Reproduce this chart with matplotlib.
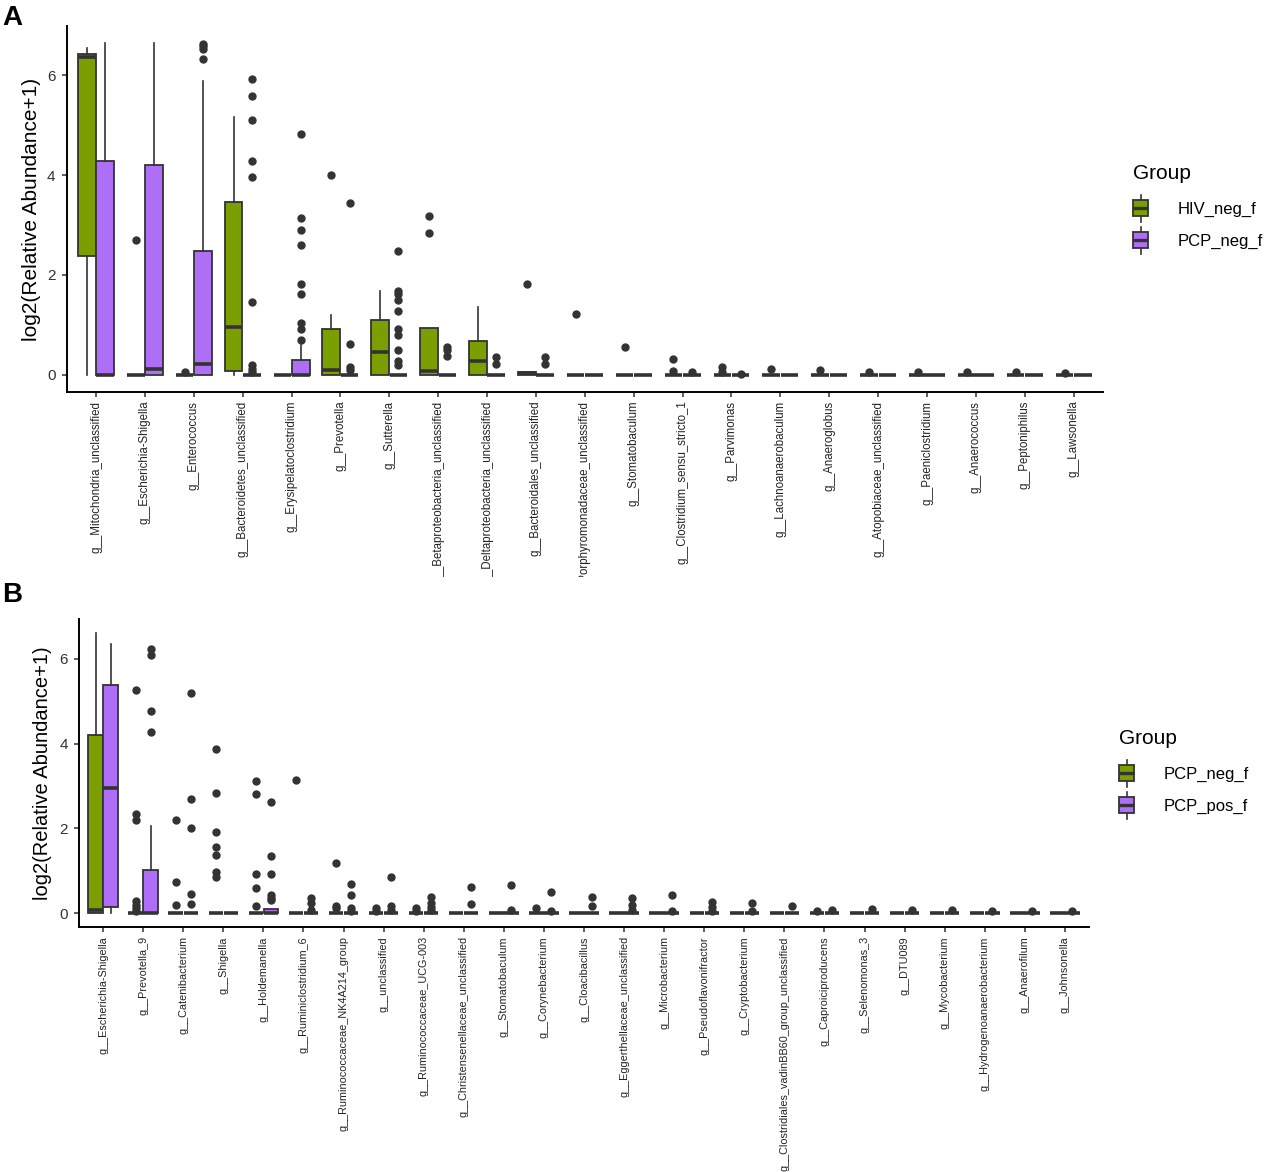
import numpy as np
import matplotlib
matplotlib.use("Agg")
import matplotlib.pyplot as plt
from matplotlib.transforms import Bbox, TransformedBbox
from matplotlib.legend_handler import HandlerBase
from matplotlib.patches import Rectangle, Patch
from matplotlib.lines import Line2D

plt.rcParams['font.family'] = ['Liberation Sans', 'DejaVu Sans']

# ---------------- Panel A data ----------------
cats_a = ["g__Mitochondria_unclassified", "g__Escherichia-Shigella", "g__Enterococcus",
          "g__Bacteroidetes_unclassified", "g__Erysipelatoclostridium", "g__Prevotella",
          "g__Sutterella", "g__Betaproteobacteria_unclassified", "g__Deltaproteobacteria_unclassified",
          "g__Bacteroidales_unclassified", "g__Porphyromonadaceae_unclassified", "g__Stomatobaculum",
          "g__Clostridium_sensu_stricto_1", "g__Parvimonas", "g__Lachnoanaerobaculum",
          "g__Anaeroglobus", "g__Atopobiaceae_unclassified", "g__Paeniclostridium",
          "g__Anaerococcus", "g__Peptoniphilus", "g__Lawsonella"]
groups_a = ["HIV_neg_f", "PCP_neg_f"]

# HIV_neg_f
a1_q1 = [2.38, 0, 0, 0.07, 0, 0, 0, 0, 0, 0, 0, 0, 0, 0, 0, 0, 0, 0, 0, 0, 0]
a1_med = [6.36, 0, 0, 0.96, 0, 0.09, 0.46, 0.07, 0.27, 0.03, 0, 0, 0, 0, 0, 0, 0, 0, 0, 0, 0]
a1_q3 = [6.43, 0, 0, 3.47, 0, 0.91, 1.09, 0.94, 0.68, 0.05, 0, 0, 0, 0, 0, 0, 0, 0, 0, 0, 0]
a1_lo = [0, 0, 0, 0, 0, 0, 0, 0, 0, 0, 0, 0, 0, 0, 0, 0, 0, 0, 0, 0, 0]
a1_hi = [6.55, 0, 0, 5.16, 0, 1.19, 1.68, 0.94, 1.36, 0.05, 0, 0, 0, 0, 0, 0, 0, 0, 0, 0, 0]
a1_out = [[], [2.70], [0.05], [], [], [4.01], [], [3.18, 2.84], [], [1.81], [1.22], [0.55],
          [0.31, 0.07], [0.15, 0.05], [0.12], [0.10], [0.065], [0.065], [0.065], [0.05], [0.035]]

# PCP_neg_f
a2_q1 = [0] * 21
a2_med = [0, 0.11, 0.21, 0, 0, 0, 0, 0, 0, 0, 0, 0, 0, 0, 0, 0, 0, 0, 0, 0, 0]
a2_q3 = [4.29, 4.21, 2.47, 0, 0.29, 0, 0, 0, 0, 0, 0, 0, 0, 0, 0, 0, 0, 0, 0, 0, 0]
a2_lo = [0] * 21
a2_hi = [6.64, 6.64, 5.88, 0, 0.60, 0, 0, 0, 0, 0, 0, 0, 0, 0, 0, 0, 0, 0, 0, 0, 0]
a2_out = [[], [], [6.62, 6.59, 6.53, 6.33],
          [5.93, 5.58, 5.11, 4.28, 3.97, 1.45, 0.19, 0.12, 0.05],
          [4.83, 3.13, 2.90, 2.60, 1.82, 1.62, 1.03, 0.92, 0.70],
          [3.45, 0.62, 0.15, 0.10],
          [2.47, 1.68, 1.62, 1.49, 1.27, 0.92, 0.79, 0.49, 0.27, 0.20],
          [0.56, 0.49, 0.38], [0.36, 0.22], [0.36, 0.22], [], [], [0.05], [0.02],
          [], [], [], [], [], [], []]

# ---------------- Panel B data ----------------
cats_b = ["g__Escherichia-Shigella", "g__Prevotella_9", "g__Catenibacterium", "g__Shigella",
          "g__Holdemanella", "g__Ruminiclostridium_6", "g__Ruminococcaceae_NK4A214_group",
          "g__unclassified", "g__Ruminococcaceae_UCG-003", "g__Christensenellaceae_unclassified",
          "g__Stomatobaculum", "g__Corynebacterium", "g__Cloacibacillus",
          "g__Eggerthellaceae_unclassified", "g__Microbacterium", "g__Pseudoflavonifractor",
          "g__Cryptobacterium", "g__Clostridiales_vadinBB60_group_unclassified",
          "g__Caproiciproducens", "g__Selenomonas_3", "g__DTU089", "g__Mycobacterium",
          "g__Hydrogenoanaerobacterium", "g__Anaerofilum", "g__Johnsonella"]
groups_b = ["PCP_neg_f", "PCP_pos_f"]

# PCP_neg_f
b1_q1 = [0] * 25
b1_med = [0.08] + [0] * 24
b1_q3 = [4.20] + [0] * 24
b1_lo = [0] * 25
b1_hi = [6.61] + [0] * 24
b1_out = [[], [5.26, 2.34, 2.20, 0.28, 0.20, 0.12, 0.05], [2.20, 0.74, 0.18],
          [3.88, 2.83, 1.91, 1.57, 1.36, 0.98, 0.85], [3.11, 2.80, 0.91, 0.59, 0.16],
          [3.15], [1.17, 0.17, 0.12], [0.12, 0.05], [0.12, 0.05], [], [], [0.12],
          [], [], [], [], [], [], [0.05], [], [], [], [], [], []]

# PCP_pos_f
b2_q1 = [0.14] + [0] * 24
b2_med = [2.95] + [0] * 24
b2_q3 = [5.39, 1.01, 0, 0, 0.10] + [0] * 20
b2_lo = [0] * 25
b2_hi = [6.36, 2.06, 0, 0, 0.10] + [0] * 20
b2_out = [[], [6.24, 6.10, 4.76, 4.27], [5.20, 2.68, 2.00, 0.46, 0.22], [],
          [2.61, 1.35, 0.93, 0.43, 0.35, 0.30], [0.35, 0.24, 0.08], [0.69, 0.43, 0.12, 0.04],
          [0.85, 0.17, 0.06], [0.37, 0.24, 0.14, 0.06], [0.61, 0.22], [0.67, 0.06],
          [0.50, 0.05], [0.38, 0.17], [0.36, 0.19, 0.08], [0.42, 0.04], [0.25, 0.14, 0.05],
          [0.24, 0.05], [0.17], [0.07], [0.09], [0.08], [0.07], [0.04], [0.04], [0.04]]

GREEN = "#7B9F00"
PURPLE = "#AF6EF6"
EDGE = "#333333"

W, H = 1264, 1172
fig = plt.figure(figsize=(W / 100, H / 100), dpi=100)


def make_stats(q1, med, q3, lo, hi, out):
    return [dict(q1=a, med=b, q3=c, whislo=d, whishi=e, fliers=np.array(f, dtype=float))
            for a, b, c, d, e, f in zip(q1, med, q3, lo, hi, out)]


class BoxKey(HandlerBase):
    def create_artists(self, legend, orig_handle, xdescent, ydescent, width, height,
                       fontsize, trans):
        fc = orig_handle.get_facecolor()
        x0 = -xdescent
        yc = -ydescent + height / 2
        gh = 1.62 * fontsize
        yb, yt = yc - gh / 2, yc + gh / 2
        xc = x0 + width / 2
        wl = Line2D([xc, xc], [yb, yt], color=EDGE, lw=1.2, transform=trans)
        r = Rectangle((x0, yb + 0.2 * gh), width, 0.6 * gh, facecolor=fc,
                      edgecolor=EDGE, lw=1.3, transform=trans)
        m = Line2D([x0, x0 + width], [yc, yc], color=EDGE, lw=2.4,
                   solid_capstyle='butt', transform=trans)
        return [wl, r, m]


def panel(rect_px, cats, groups, s1, s2, ylim, clip_px, xfs, yfs, leg_px, letter, letter_y):
    left, top, right, bottom = rect_px
    ax = fig.add_axes([left / W, 1 - bottom / H, (right - left) / W, (bottom - top) / H])
    n = len(cats)
    pos = np.arange(1, n + 1)
    off = 0.1875
    for st, col, dx in ((s1, GREEN, -off), (s2, PURPLE, off)):
        ax.bxp(st, positions=pos + dx, widths=0.36, patch_artist=True, showcaps=False,
               manage_ticks=False,
               boxprops=dict(facecolor=col, edgecolor=EDGE, linewidth=1.3),
               medianprops=dict(color=EDGE, linewidth=2.6, solid_capstyle='butt'),
               whiskerprops=dict(color=EDGE, linewidth=1.2),
               flierprops=dict(marker='o', markerfacecolor=EDGE, markeredgecolor=EDGE,
                               markersize=5.0, linestyle='none'))
    ax.set_xlim(0.4, n + 0.6)
    ax.set_ylim(*ylim)
    ax.set_yticks([0, 2, 4, 6])
    ax.set_xticks(pos)
    ax.set_xticklabels(cats, rotation=90, fontsize=xfs, color='#222222', va='top', ha='center')
    for s in ('top', 'right'):
        ax.spines[s].set_visible(False)
    for s in ('left', 'bottom'):
        ax.spines[s].set_linewidth(1.4)
        ax.spines[s].set_color('black')
    ax.tick_params(axis='both', length=3.6, width=1.1, color=EDGE, pad=3)
    ax.tick_params(axis='y', labelsize=11, labelcolor='#333333', pad=4.5)
    ax.set_ylabel("log2(Relative Abundance+1)", fontsize=yfs, color='black')
    if clip_px is not None:
        bb = TransformedBbox(Bbox.from_extents(0, 1 - clip_px / H, 1, 1), fig.transFigure)
        for lbl in ax.get_xticklabels():
            lbl.set_clip_box(bb)
            lbl.set_clip_on(True)
    handles = [Patch(facecolor=GREEN), Patch(facecolor=PURPLE)]
    leg = ax.legend(handles, groups, title="Group", handler_map={Patch: BoxKey()},
                    loc='upper left', bbox_to_anchor=(leg_px[0] / W, 1 - leg_px[1] / H),
                    bbox_transform=fig.transFigure, frameon=False, fontsize=12,
                    title_fontsize=15, handlelength=0.9, handleheight=2.11,
                    handletextpad=1.75, labelspacing=0.3, borderpad=0, borderaxespad=0,
                    alignment='left')
    try:
        leg._legend_box.sep = 8.5
    except Exception:
        pass
    fig.text(2 / W, 1 - letter_y / H, letter, fontsize=20, fontweight='bold',
             ha='left', va='center')
    return ax


axA = panel((66.7, 26.5, 1103, 391.5), cats_a, groups_a,
            make_stats(a1_q1, a1_med, a1_q3, a1_lo, a1_hi, a1_out),
            make_stats(a2_q1, a2_med, a2_q3, a2_lo, a2_hi, a2_out),
            (-0.332, 6.972), 577, 8.3, 15, (1133, 164), "A", 18)
axA.yaxis.set_label_coords(-0.025, 0.5)

axB = panel((79, 619, 1089, 927), cats_b, groups_b,
            make_stats(b1_q1, b1_med, b1_q3, b1_lo, b1_hi, b1_out),
            make_stats(b2_q1, b2_med, b2_q3, b2_lo, b2_hi, b2_out),
            (-0.33, 6.94), None, 7.85, 14.5, (1119, 729), "B", 595)
axB.yaxis.set_label_coords(-0.027, 0.5)

fig.savefig("out.png", dpi=100)
